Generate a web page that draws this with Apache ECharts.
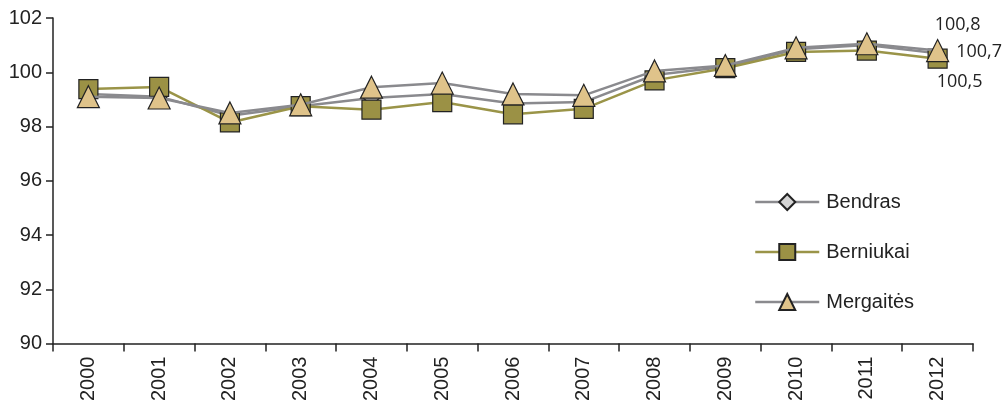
<!DOCTYPE html>
<html>
<head>
<meta charset="utf-8">
<script src="https://cdn.jsdelivr.net/npm/echarts@6/dist/echarts.min.js"></script>
<style>
html,body{margin:0;padding:0;background:#fff;}
#c{width:1002px;height:404px;}
</style>
</head>
<body>
<div id="c"></div>
<script>
const years = ['2000','2001','2002','2003','2004','2005','2006','2007','2008','2009','2010','2011','2012'];
const bendras    = [99.2, 99.1, 98.4, 98.75, 99.05, 99.2, 98.85, 98.9, 99.9, 100.2, 100.85, 101.0, 100.7];
const berniukai  = [99.38, 99.46, 98.15, 98.75, 98.62, 98.9, 98.45, 98.65, 99.7, 100.15, 100.75, 100.8, 100.5];
const mergaites  = [99.1, 99.05, 98.5, 98.8, 99.45, 99.6, 99.2, 99.15, 100.05, 100.25, 100.9, 101.05, 100.8];
const seriesNames = ['Bendras', 'Berniukai', 'Mergaitės'];

const fmt = v => String(v.toFixed(1)).replace('.', ',');
const labelFont = {fontFamily: 'Open Sans', fontSize: 18, color: '#222'};

function withLastLabel(arr, labelCfg) {
  return arr.map((v, i) => i === arr.length - 1
    ? {value: v, label: Object.assign({show: true, formatter: () => fmt(v)}, labelFont, labelCfg)}
    : v);
}

const chart = echarts.init(document.getElementById('c'), null, {renderer: 'canvas'});
chart.setOption({
  animation: false,
  backgroundColor: '#fff',
  grid: {left: 53, right: 29, top: 18, bottom: 59, containLabel: false},
  legend: {
    orient: 'vertical',
    left: 749, top: 187,
    itemWidth: 64, itemHeight: 20, itemGap: 30,
    lineStyle: {width: 2.5},
    textStyle: {fontFamily: 'Liberation Sans', fontSize: 20, color: '#222', padding: [0, 0, 0, 2]},
    data: seriesNames
  },
  xAxis: {
    type: 'category',
    data: years,
    boundaryGap: true,
    axisLine: {lineStyle: {color: '#222', width: 1.5}},
    axisTick: {show: true, length: 8, interval: 0, lineStyle: {color: '#222', width: 1.5}},
    axisLabel: {rotate: 90, margin: 13, interval: 0, fontFamily: 'Liberation Sans', fontSize: 20, color: '#222'},
    splitLine: {show: false}
  },
  yAxis: {
    type: 'value',
    min: 90, max: 102, interval: 2,
    axisLine: {show: true, lineStyle: {color: '#222', width: 1.5}},
    axisTick: {show: true, length: 7, lineStyle: {color: '#222', width: 1.5}},
    axisLabel: {margin: 11, fontFamily: 'Liberation Sans', fontSize: 20, color: '#222'},
    splitLine: {show: false}
  },
  series: [
    {
      name: 'Bendras', type: 'line', z: 2,
      symbol: 'diamond', symbolSize: 16, showAllSymbol: true,
      lineStyle: {color: '#8a8a8e', width: 2.5},
      itemStyle: {color: '#d4d4d4', borderColor: '#222', borderWidth: 1.2},
      data: withLastLabel(bendras, {position: 'right', distance: 10, offset: [0, -1]})
    },
    {
      name: 'Berniukai', type: 'line', z: 3,
      symbol: 'rect', symbolSize: 19, showAllSymbol: true,
      lineStyle: {color: '#9a9448', width: 2.5},
      itemStyle: {color: '#9b9145', borderColor: '#222', borderWidth: 1.2},
      data: withLastLabel(berniukai, {position: 'bottom', distance: 4, offset: [22, 0]})
    },
    {
      name: 'Mergaitės', type: 'line', z: 4,
      symbol: 'triangle', symbolSize: [22, 22], showAllSymbol: true,
      lineStyle: {color: '#8a8a8e', width: 2.5},
      itemStyle: {color: '#dfc38a', borderColor: '#222', borderWidth: 1.2},
      data: withLastLabel(mergaites, {position: 'top', distance: 5, offset: [20, 0]})
    }
  ]
});
</script>
</body>
</html>
